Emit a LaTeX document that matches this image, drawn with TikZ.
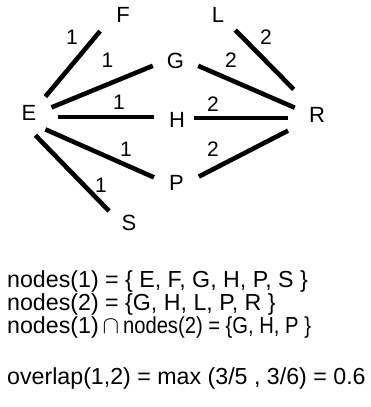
\documentclass[tikz,border=0pt]{standalone}
\usepackage{graphicx}
\usepackage{fontspec}
\setmainfont{Liberation Sans}
\begin{document}
\begin{tikzpicture}[>=latex, x=1pt, y=-1pt]

% --- Stijlen ---
\tikzset{
    vertex/.style={circle, inner sep=0pt, minimum size=46pt, font=\fontsize{22}{26}\selectfont},
    weight/.style={inner sep=0pt, font=\fontsize{21}{25}\selectfont},
    edge/.style={line width=4.6pt, draw=black},
    formula/.style={anchor=base west, inner sep=0pt, font=\fontsize{23.2}{27}\selectfont}
}

    \useasboundingbox (0,0) rectangle (371,407);

    % Knopen van de graaf
    \node[vertex] (E) at (29,113) {E};
    \node[vertex] (F) at (123,15) {F};
    \node[vertex] (G) at (175.5,61) {G};
    \node[vertex] (H) at (177,120) {H};
    \node[vertex] (P) at (176.5,183) {P};
    \node[vertex] (S) at (129,223) {S};
    \node[vertex] (L) at (218,14.5) {L};
    \node[vertex] (R) at (317,114.5) {R};

    % Kanten van groep 1
    \draw[edge, shorten >=5pt] (E.45) -- (F.212);
    \draw[edge] (E.14) -- (G.192);
    \draw[edge, shorten <=6pt] (E.-10) -- (E.-10 -| H.west);
    \draw[edge] (E.-45) -- (P.166);
    \draw[edge] (E.-74) -- (S.149);

    % Kanten van groep 2
    \draw[edge, shorten >=11pt] (L.-42) -- (R.132);
    \draw[edge] (G.-12) -- (R.163);
    \draw[edge, shorten <=-6pt, shorten >=6pt] (H.5) -- (H.5 -| R.west);
    \draw[edge, shorten >=10pt] (P.16) -- (R.210);

    % Gewichten
    \node[weight] (w1) at (72,37) {1};
    \node[weight] (w2) at (107.5,60.5) {1};
    \node[weight] (w3) at (119,102.5) {1};
    \node[weight] (w4) at (126,149.5) {1};
    \node[weight] (w5) at (101,185.5) {1};
    \node[weight] (w6) at (266,37.5) {2};
    \node[weight] (w7) at (231,60.5) {2};
    \node[weight] (w8) at (213,104) {2};
    \node[weight] (w9) at (213,149.5) {2};

    % Formules onder de graaf
    \node[formula] (n1) at (7,287) {nodes(1) = \{ E, F, G, H, P, S \}};
    \node[formula] (n2) at (7,310) {nodes(2) = \{G, H, L, P, R \}};
    \node[formula] (n12) at (7,333) {nodes(1)\,$\cap$\,\scalebox{0.87}[1]{nodes(2) = \{G, H, P \}}};
    \node[formula] (ov) at (7,384) {overlap(1,2) = max (3/5 , 3/6) = 0.6};

\end{tikzpicture}
\end{document}
